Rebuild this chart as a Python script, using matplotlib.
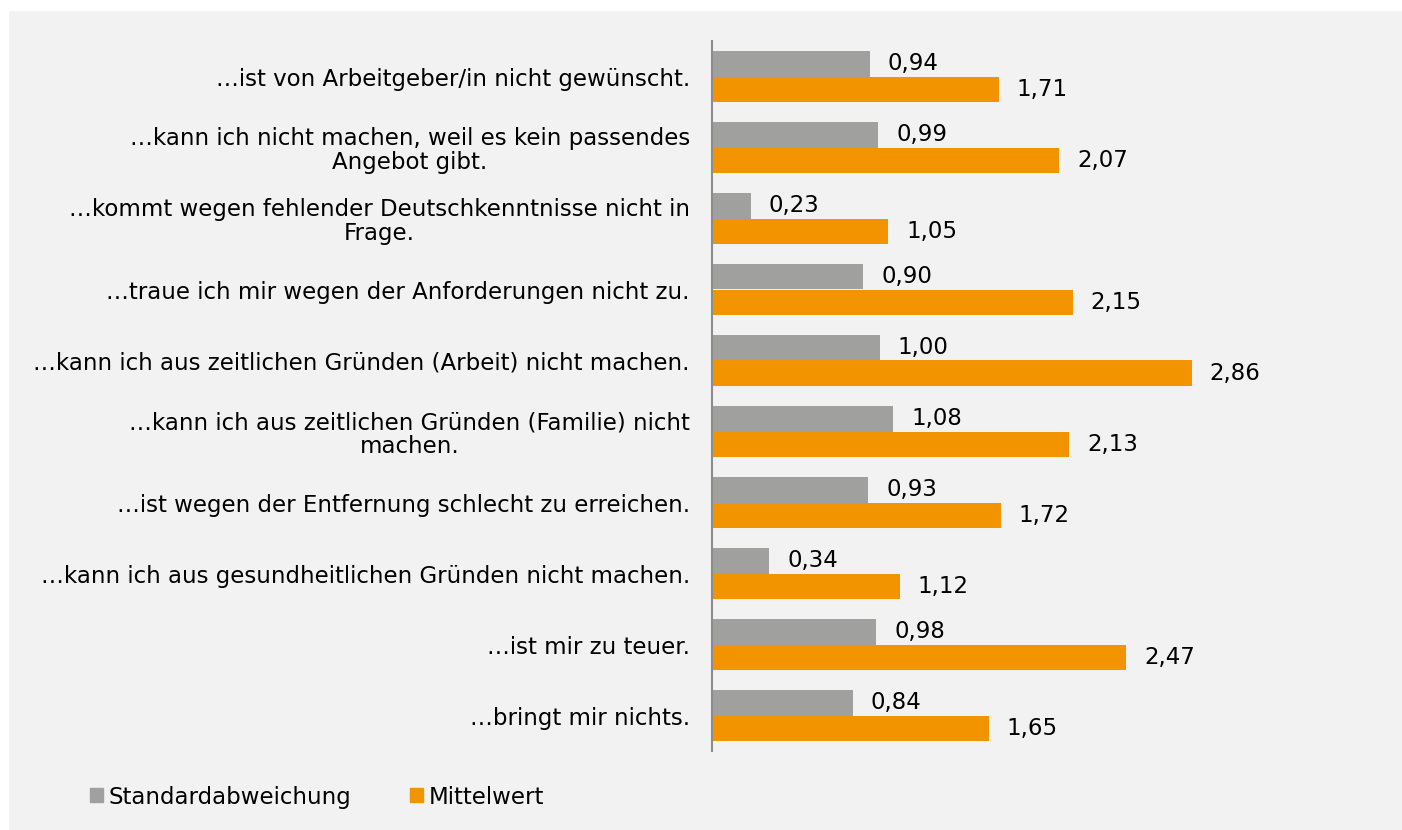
import matplotlib.pyplot as plt
from matplotlib.patches import Patch, Rectangle

categories = [
    "…ist von Arbeitgeber/in nicht gewünscht.",
    "…kann ich nicht machen, weil es kein passendes\nAngebot gibt.",
    "…kommt wegen fehlender Deutschkenntnisse nicht in\nFrage.",
    "…traue ich mir wegen der Anforderungen nicht zu.",
    "…kann ich aus zeitlichen Gründen (Arbeit) nicht machen.",
    "…kann ich aus zeitlichen Gründen (Familie) nicht\nmachen.",
    "…ist wegen der Entfernung schlecht zu erreichen.",
    "…kann ich aus gesundheitlichen Gründen nicht machen.",
    "…ist mir zu teuer.",
    "…bringt mir nichts.",
]
std_dev = [0.94, 0.99, 0.23, 0.90, 1.00, 1.08, 0.93, 0.34, 0.98, 0.84]
mean = [1.71, 2.07, 1.05, 2.15, 2.86, 2.13, 1.72, 1.12, 2.47, 1.65]

GRAY = "#a0a09e"
ORANGE = "#f29400"
BG = "#f2f2f2"
FS = 16.5

plt.rcParams["font.family"] = ["DejaVu Sans"]

fig = plt.figure(figsize=(14.02, 8.3), dpi=100)
fig.patch.set_facecolor("white")
# grey panel behind the chart
fig.patches.append(Rectangle((9 / 1402, 0), 1, 1 - 11 / 830, transform=fig.transFigure,
                             facecolor=BG, edgecolor="none", zorder=-10))

ax = fig.add_axes([712 / 1402, 79 / 830, 671 / 1402, 710 / 830])
ax.patch.set_alpha(0)

pos = list(range(len(categories)))
h = 0.36
ax.barh([p - h / 2 for p in pos], std_dev, height=h, color=GRAY)
ax.barh([p + h / 2 for p in pos], mean, height=h, color=ORANGE)

for p, s, m in zip(pos, std_dev, mean):
    ax.annotate(f"{s:.2f}".replace(".", ","), (s, p - h / 2), xytext=(13, 0),
                textcoords="offset points", ha="left", va="center", fontsize=FS)
    ax.annotate(f"{m:.2f}".replace(".", ","), (m, p + h / 2), xytext=(13, 0),
                textcoords="offset points", ha="left", va="center", fontsize=FS)

ax.set_xlim(0, 4)
ax.set_ylim(len(categories) - 0.5, -0.5)
ax.set_yticks(pos)
ax.set_yticklabels(categories, fontsize=FS)
for lbl in ax.get_yticklabels():
    lbl.set_multialignment("center")
    lbl.set_linespacing(1.05)
ax.tick_params(axis="y", length=0, pad=16)
ax.set_xticks([])
for side in ["top", "right", "bottom"]:
    ax.spines[side].set_visible(False)
ax.spines["left"].set_color("#8c8c8c")
ax.spines["left"].set_linewidth(1.5)

handles = [Patch(color=GRAY, label="Standardabweichung"),
           Patch(color=ORANGE, label="Mittelwert")]
fig.legend(handles=handles, loc="center left", bbox_to_anchor=(90 / 1402, 1 - 797 / 830),
           ncol=2, frameon=False, fontsize=FS, handlelength=0.57, handleheight=0.57,
           handletextpad=0.22, columnspacing=2.6, borderpad=0, borderaxespad=0)

fig.savefig("out.png", dpi=100)
